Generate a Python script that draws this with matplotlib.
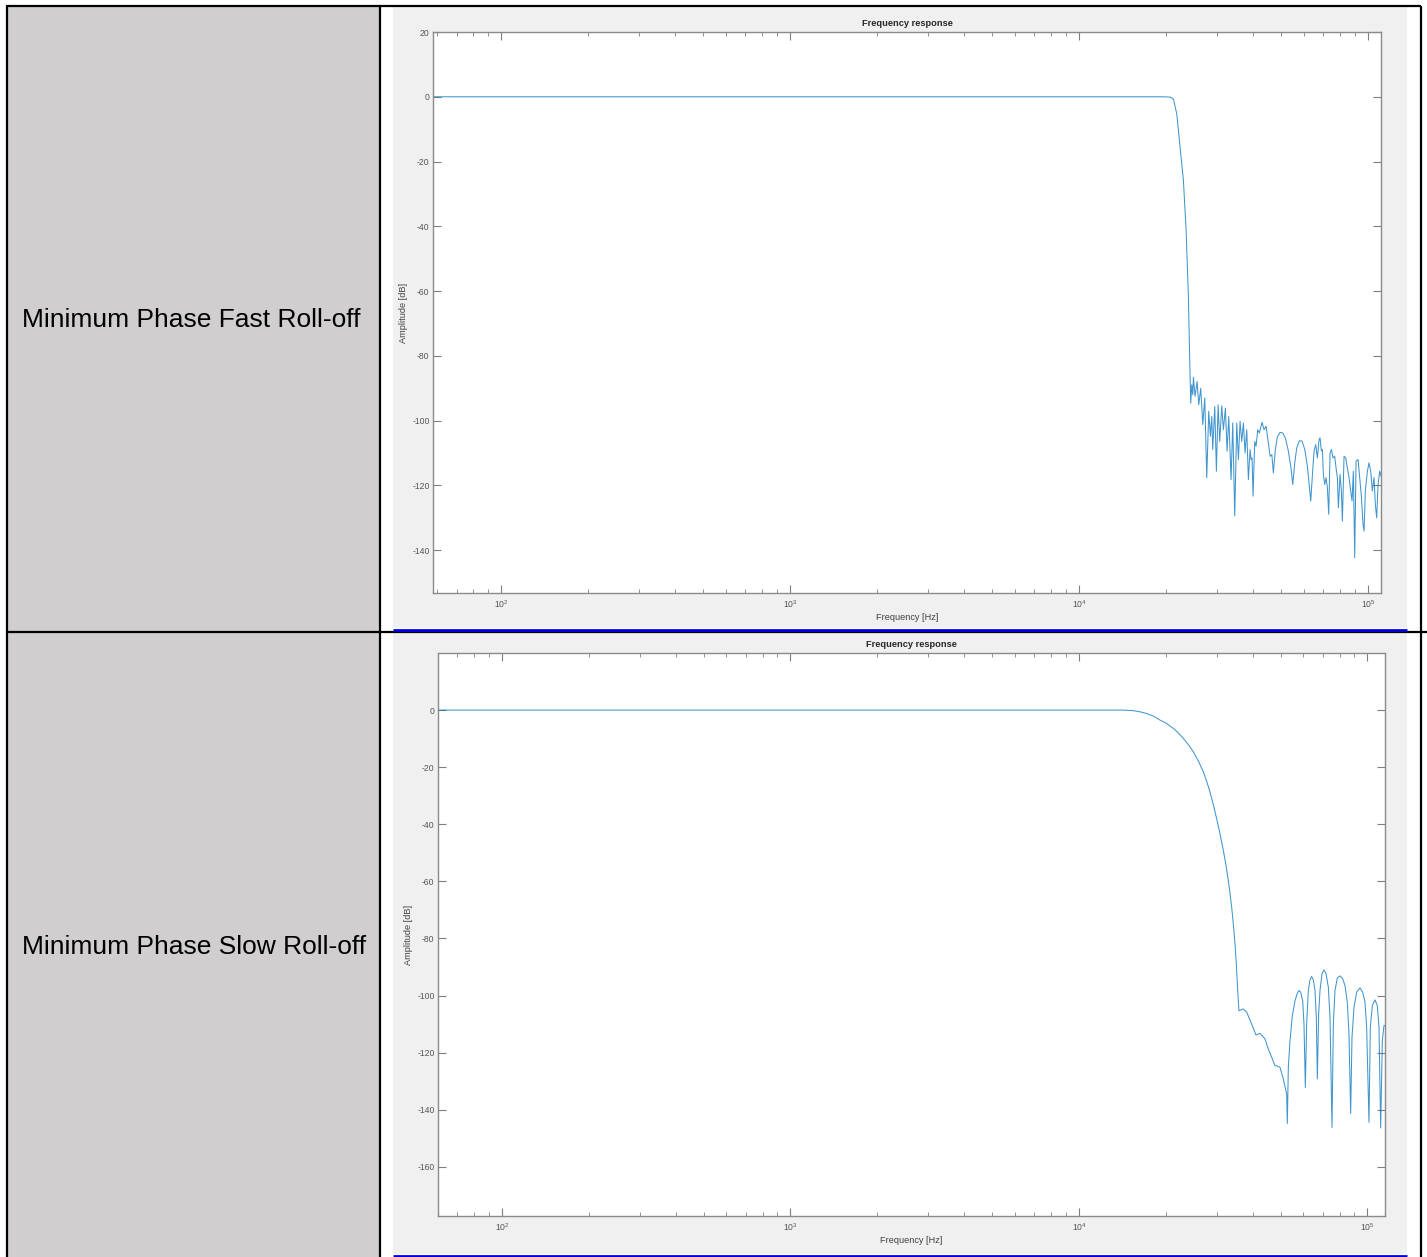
import numpy as np
import matplotlib.pyplot as plt
from matplotlib.patches import Rectangle
from matplotlib.lines import Line2D
from matplotlib.ticker import LogLocator, NullFormatter

plt.rcParams['font.family'] = ['Liberation Sans', 'DejaVu Sans']
plt.rcParams['axes.unicode_minus'] = False

W, H = 1427, 1257

row_labels = ["Minimum Phase Fast Roll-off", "Minimum Phase Slow Roll-off"]
plot_title = "Frequency response"
x_label = "Frequency [Hz]"
y_label = "Amplitude [dB]"

# fast roll-off: passband + transition
fast_knee_hz = [58, 19500, 20640, 21200, 21780, 22360, 22960, 23460, 23890]
fast_knee_db = [0, 0, -0.1, -0.7, -5.3, -15.6, -25.8, -41.2, -61.7]
# fast roll-off: dense ripple just after the edge
fast_rip1_hz = [24215, 24343, 24538, 24735, 24867, 25199, 25604, 25946, 26363, 26786,
                27217, 27654, 28098, 28474, 28778, 29008, 29474, 29868, 30267, 30672,
                31164, 31581, 32089, 32517, 32952, 33571, 34019, 34566, 35121, 35590,
                36066, 36548, 37037, 37532, 38034, 38542, 39058, 39370, 39685, 40002,
                40537, 40970, 41518, 42073, 42976, 43667, 44368]
fast_rip1_db = [-86.4, -94.6, -88.9, -92.0, -86.6, -92.5, -87.9, -95.1, -90.0, -101.2,
                -93.0, -117.6, -97.1, -104.8, -98.7, -108.9, -95.6, -115.6, -95.1, -106.4,
                -95.4, -102.8, -96.1, -109.4, -98.7, -118.2, -100.7, -129.4, -100.7, -112.0,
                -100.2, -106.4, -100.7, -110.0, -102.8, -118.2, -108.9, -112.0, -111.5, -123.3,
                -106.4, -107.9, -102.8, -103.8, -100.5, -102.8, -101.7]
# fast roll-off: wide lobes in the middle
fast_lobe_hz = [45830, 46460, 47030, 47780, 48550, 49610, 50690, 51750, 52870, 54020,
                54890, 55770, 56670, 57850, 59110, 60400, 61660, 62650, 63350, 64370]
fast_lobe_db = [-111.0, -110.5, -116.1, -108.9, -105.0, -103.6, -103.8, -105.4, -108.9, -114.0,
                -119.7, -113.0, -108.4, -106.2, -106.3, -108.9, -114.0, -120.2, -124.8, -115.1]
# fast roll-off: dense ripple near the top of the band
fast_rip2_hz = [65042, 65912, 66793, 67685, 68227, 68956, 69507, 70063, 70812, 71568,
                72332, 73105, 73886, 74675, 75674, 76685, 77504, 78332, 78958, 80014,
                80869, 81516, 82605, 83710, 84829, 85962, 87111, 88042, 88982, 89933,
                90893, 92353, 93588, 94838, 96106, 96875, 97910, 99483, 100813, 102161,
                103526, 104911, 106031, 107163, 108308, 109756, 110900]
fast_rip2_db = [-109.4, -107.4, -111.5, -105.9, -105.3, -109.4, -108.9, -116.6, -119.7, -117.6,
                -120.7, -128.9, -110.0, -108.9, -111.5, -111.0, -114.6, -117.6, -126.9, -116.6,
                -121.7, -131.0, -111.0, -111.5, -114.6, -117.6, -121.7, -124.8, -115.6, -142.3,
                -112.5, -112.0, -117.6, -123.3, -132.0, -134.1, -121.7, -115.6, -113.0, -115.6,
                -121.7, -117.6, -125.9, -130.0, -119.7, -115.6, -117.1]
fast_yticks = [-140, -120, -100, -80, -60, -40, -20, 0, 20]
fast_xlim = (58, 110900)
fast_ylim = (-153.2, 20)

# slow roll-off: passband + transition
slow_knee_hz = [60, 12000, 14245, 15429, 16272, 17161, 18099, 19088, 20130, 21230,
                22094, 22994, 23932, 24906, 25920, 26975, 27702, 28449, 29216, 30004,
                30813, 31643, 32324, 32932, 33373, 33820, 34273, 34732, 35103, 35385,
                35668]
slow_knee_db = [0, 0, 0, -0.2, -0.6, -1.2, -2.1, -3.5, -4.7, -6.4,
                -8.0, -9.9, -12.1, -14.6, -17.8, -21.6, -24.9, -28.7, -33.1, -38.0,
                -43.3, -49.1, -54.4, -59.7, -64.1, -69.0, -74.9, -81.9, -88.9, -95.9,
                -101.8]
# slow roll-off: stopband lobes
slow_tail_hz = [35860, 37110, 38130, 39680, 41070, 42400, 44130, 45310, 46550, 47790,
                48450, 49740, 51070, 52460, 52740,
                53160, 53880, 54890, 56070, 57120, 57890, 58660, 59610, 60240, 60890,
                61540, 62360, 63200, 64040, 64900, 65770, 66470, 67010,
                67720, 68450, 69550, 70670, 71810, 73160, 74140, 75330,
                76140, 77150, 78610, 80300, 82020, 83560, 85130, 86270, 87430,
                88370, 89790, 91720, 94190, 96220, 98030, 99340, 101200,
                102290, 103930, 106170, 108160, 109610, 111080,
                112570, 114070, 114990]
slow_tail_db = [-105.3, -104.7, -105.8, -110.0, -113.8, -113.2, -115.2, -118.7, -121.6, -124.6,
                -124.6, -125.1, -129.2, -134.5, -144.8,
                -125.1, -115.8, -107.0, -101.8, -99.2, -98.2, -98.8, -101.8, -109.9, -132.2,
                -109.9, -98.2, -94.5, -93.3, -94.5, -98.2, -107.6, -129.2,
                -106.4, -98.2, -92.4, -91.0, -92.2, -97.1, -107.6, -146.2,
                -109.9, -98.2, -93.8, -93.1, -94.1, -96.5, -102.3, -113.5, -141.3,
                -114.6, -104.1, -98.8, -97.3, -98.8, -102.3, -111.1, -144.4,
                -111.1, -103.5, -101.5, -103.5, -111.1, -146.4,
                -115.8, -110.5, -110.5]
slow_yticks = [-160, -140, -120, -100, -80, -60, -40, -20, 0]
slow_xlim = (60, 115000)
slow_ylim = (-177.2, 20)


def box(x0, y0, x1, y1):
    # pixel box (top-left origin) -> figure fraction
    return [x0 / W, 1 - y1 / H, (x1 - x0) / W, (y1 - y0) / H]


def fig_line(fig, x0, y0, x1, y1, color="black", lw=1.6):
    fig.add_artist(Line2D([x0 / W, x1 / W], [1 - y0 / H, 1 - y1 / H],
                          transform=fig.transFigure, color=color, lw=lw,
                          solid_capstyle="butt"))


def fig_rect(fig, x0, y0, x1, y1, color):
    b = box(x0, y0, x1, y1)
    fig.add_artist(Rectangle((b[0], b[1]), b[2], b[3], transform=fig.transFigure,
                             facecolor=color, edgecolor="none", zorder=0))


def draw_response(ax, hz, db, xlim, ylim, yticks):
    ax.semilogx(hz, db, color="#0072BD", lw=0.75, alpha=0.75)
    ax.set_xlim(*xlim)
    ax.set_ylim(*ylim)
    ax.set_yticks(yticks)
    ax.xaxis.set_major_locator(LogLocator(base=10))
    ax.xaxis.set_minor_locator(LogLocator(base=10, subs=np.arange(2, 10)))
    ax.xaxis.set_minor_formatter(NullFormatter())
    ax.tick_params(which="both", direction="in", top=True, right=True,
                   colors="#7f7f7f", labelcolor="#555555", labelsize=6.2)
    ax.tick_params(which="major", length=5.5, width=0.8)
    ax.tick_params(which="minor", length=2.8, width=0.6)
    ax.tick_params(axis="y", which="major", length=6, pad=2.5)
    ax.tick_params(axis="x", which="major", pad=4)
    for sp in ax.spines.values():
        sp.set_color("#8a8a8a")
        sp.set_linewidth(1.0)
    ax.set_title(plot_title, fontsize=6.7, fontweight="bold", pad=4, color="#262626")
    ax.set_xlabel(x_label, fontsize=6.6, labelpad=2, color="#404040")
    ax.set_ylabel(y_label, fontsize=6.6, labelpad=3, color="#404040")


fig = plt.figure(figsize=(W / 100, H / 100), dpi=100)
fig.patch.set_facecolor("white")

# table cells
fig_rect(fig, 7, 6, 380, H, "#D0CECE")
fig_rect(fig, 393, 7, 1407, 628, "#F0F0F0")
fig_rect(fig, 393, 633, 1407, 1254, "#F0F0F0")

# table borders
fig_line(fig, 6, 6, 1421, 6)
fig_line(fig, 7, 6, 7, H)
fig_line(fig, 380, 6, 380, H)
fig_line(fig, 1421, 6, 1421, H)
fig_line(fig, 7, 632, W, 632)
fig_line(fig, 393, 629.5, 1407, 629.5, color="#0000E6", lw=2.0)
fig_line(fig, 393, 1255.5, 1407, 1255.5, color="#0000E6", lw=2.0)

# row labels
label_y = [320, 947]
for text, yy in zip(row_labels, label_y):
    fig.text(22 / W, 1 - yy / H, text, fontsize=19, color="black",
             ha="left", va="center")

fast_hz = fast_knee_hz + fast_rip1_hz + fast_lobe_hz + fast_rip2_hz
fast_db = fast_knee_db + fast_rip1_db + fast_lobe_db + fast_rip2_db
ax1 = fig.add_axes(box(433, 32, 1381, 593))
draw_response(ax1, fast_hz, fast_db, fast_xlim, fast_ylim, fast_yticks)

ax2 = fig.add_axes(box(438, 653, 1385, 1216))
draw_response(ax2, slow_knee_hz + slow_tail_hz, slow_knee_db + slow_tail_db,
              slow_xlim, slow_ylim, slow_yticks)

fig.savefig("out.png", dpi=100)
